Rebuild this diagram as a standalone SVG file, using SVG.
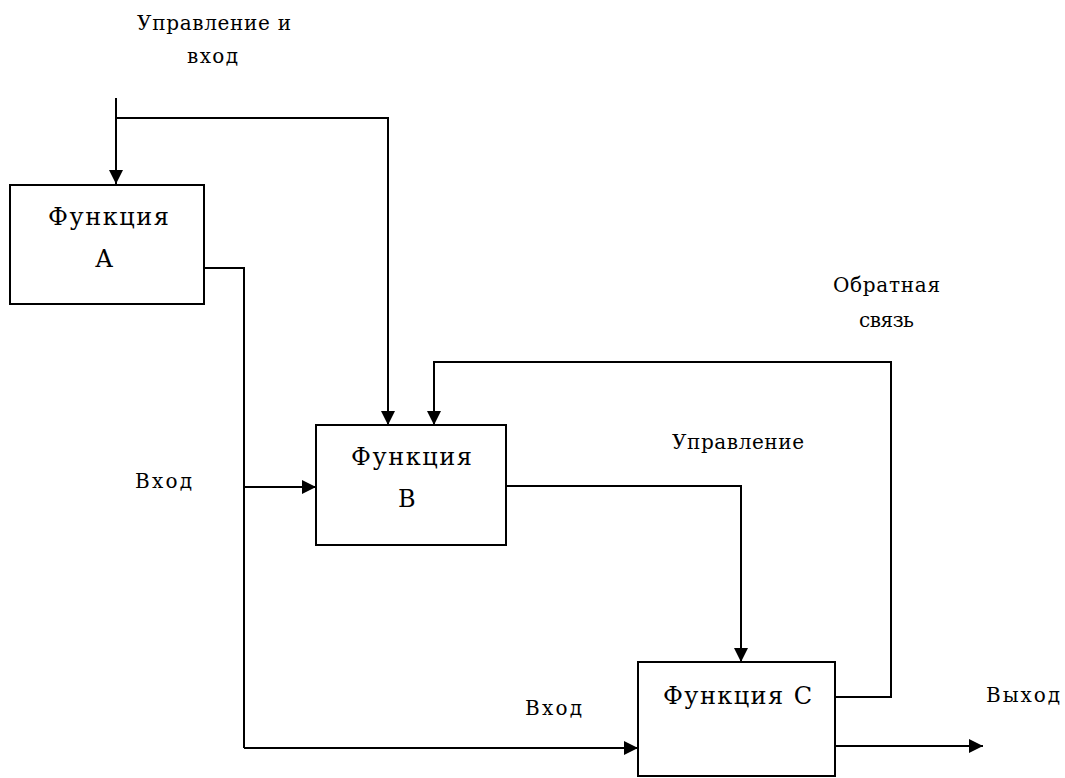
<svg xmlns="http://www.w3.org/2000/svg" width="1065" height="778" viewBox="0 0 1065 778">
<defs>
<style>
.box{fill:#fff;stroke:#000;stroke-width:2}
.ln{fill:none;stroke:#000;stroke-width:2;marker-end:url(#ah)}
.pl{fill:none;stroke:#000;stroke-width:2}
text{font-family:"DejaVu Serif","Liberation Serif",serif;font-size:24px;fill:#000}
.lb{font-size:20px}
</style>
<marker id="ah" markerUnits="userSpaceOnUse" markerWidth="14" markerHeight="14" refX="14" refY="7" orient="auto">
<path d="M0,0 L14,7 L0,14 z" fill="#000"/>
</marker>
</defs>
<rect width="1065" height="778" fill="#fff"/>
<g id="connectors">
<path class="ln" d="M116,98 V184"/>
<path class="ln" d="M116,118 H388 V425"/>
<path class="pl" d="M204,268 H244 V748"/>
<path class="ln" d="M244,748 H638"/>
<path class="ln" d="M244,487 H316"/>
<path class="ln" d="M506,486 H741 V662"/>
<path class="ln" d="M835,697 H891 V362 H434 V425"/>
<path class="ln" d="M835,746 H983"/>
</g>
<g id="nodeA">
<rect class="box" x="10" y="185" width="194" height="119"/>
<text x="48" y="225" textLength="121" lengthAdjust="spacing">Функция</text>
<text x="95" y="267">А</text>
</g>
<g id="nodeB">
<rect class="box" x="316" y="425" width="190" height="120"/>
<text x="351" y="465" textLength="121" lengthAdjust="spacing">Функция</text>
<text x="398" y="507">В</text>
</g>
<g id="nodeC">
<rect class="box" x="638" y="662" width="197" height="114"/>
<text x="663" y="704" textLength="149" lengthAdjust="spacing">Функция С</text>
</g>
<g id="labels">
<text class="lb" x="137" y="30" textLength="154" lengthAdjust="spacing">Управление и</text>
<text class="lb" x="187" y="63" textLength="51" lengthAdjust="spacing">вход</text>
<text class="lb" x="135" y="488" textLength="57" lengthAdjust="spacing">Вход</text>
<text class="lb" x="672" y="449" textLength="132" lengthAdjust="spacing">Управление</text>
<text class="lb" x="833" y="292" textLength="107" lengthAdjust="spacing">Обратная</text>
<text class="lb" x="859" y="327" textLength="55" lengthAdjust="spacing">связь</text>
<text class="lb" x="525" y="715" textLength="57" lengthAdjust="spacing">Вход</text>
<text class="lb" x="986" y="702" textLength="74" lengthAdjust="spacing">Выход</text>
</g>
</svg>
